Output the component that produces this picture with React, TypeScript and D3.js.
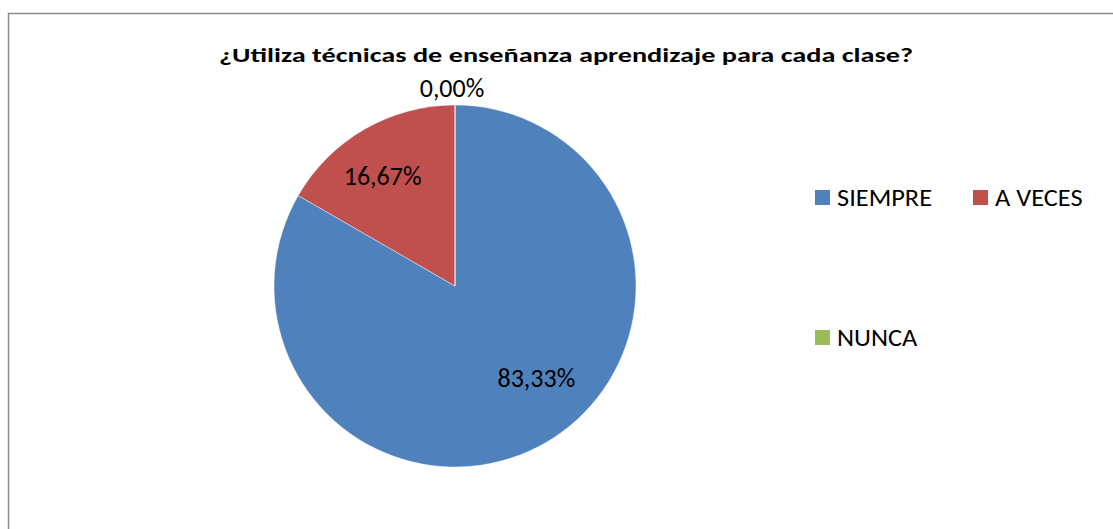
import React from "react";
import * as d3 from "d3";

const categories = ["SIEMPRE", "A VECES", "NUNCA"];
const values = [83.33, 16.67, 0.0];
const labels = ["83,33%", "16,67%", "0,00%"];
const colors = ["#4F81BD", "#C0504D", "#9BBB59"];
const title = "¿Utiliza técnicas de enseñanza aprendizaje para cada clase?";

const W = 1113;
const H = 529;
const FONT = "Carlito, Lato, 'Open Sans', sans-serif";

export default function App() {
  const cx = 455;
  const cy = 286;
  const r = 181;
  const pie = d3.pie<number>().sort(null).value((d) => d)(values);
  const arc = d3.arc<d3.PieArcDatum<number>>().innerRadius(0).outerRadius(r);
  const labelArc = d3.arc<d3.PieArcDatum<number>>().innerRadius(r * 0.7).outerRadius(r * 0.7);
  const nudge = [
    [18, -18],
    [-9, 0],
  ];

  return (
    <svg
      width={W}
      height={H}
      style={{ position: "absolute", left: 0, top: 0, background: "#fff" }}
      fontFamily={FONT}
    >
      <rect x={8.5} y={13.5} width={W + 10} height={H + 10} fill="#fff" stroke="#8c8c8c" strokeWidth={1.5} />
      <text
        x={566}
        y={62}
        textAnchor="middle"
        fontSize={21}
        fontWeight="bold"
        fill="#000"
        textLength={694}
        lengthAdjust="spacingAndGlyphs"
      >
        {title}
      </text>
      <g transform={`translate(${cx},${cy})`}>
        {pie.map((p, i) => (
          <path key={i} d={arc(p) || ""} fill={colors[i]} stroke="#ffffff" strokeOpacity={0.6} strokeWidth={0.7} />
        ))}
        {pie.map((p, i) => {
          if (p.endAngle - p.startAngle < 1e-6) {
            const a = p.startAngle;
            const x = Math.sin(a) * (r + 8) - 3;
            const y = -Math.cos(a) * (r + 8);
            return (
              <text key={"l" + i} x={x} y={y} textAnchor="middle" fontSize={26} fill="#000">
                {labels[i]}
              </text>
            );
          }
          const [x, y] = labelArc.centroid(p);
          const n = nudge[i] || [0, 0];
          return (
            <text key={"l" + i} x={x + n[0]} y={y + n[1]} textAnchor="middle" dominantBaseline="central" fontSize={26} fill="#000">
              {labels[i]}
            </text>
          );
        })}
      </g>
      {categories.map((c, i) => {
        const col = i % 2;
        const row = Math.floor(i / 2);
        const x = 815 + col * 158;
        const y = 190 + row * 140;
        return (
          <g key={c}>
            <rect x={x} y={y} width={15} height={15} fill={colors[i]} />
            <g transform={`translate(${x + 22},${y + 8}) scale(1.1,1)`}>
              <text x={0} y={0} dominantBaseline="central" fontSize={24} fill="#000">
                {c}
              </text>
            </g>
          </g>
        );
      })}
    </svg>
  );
}
